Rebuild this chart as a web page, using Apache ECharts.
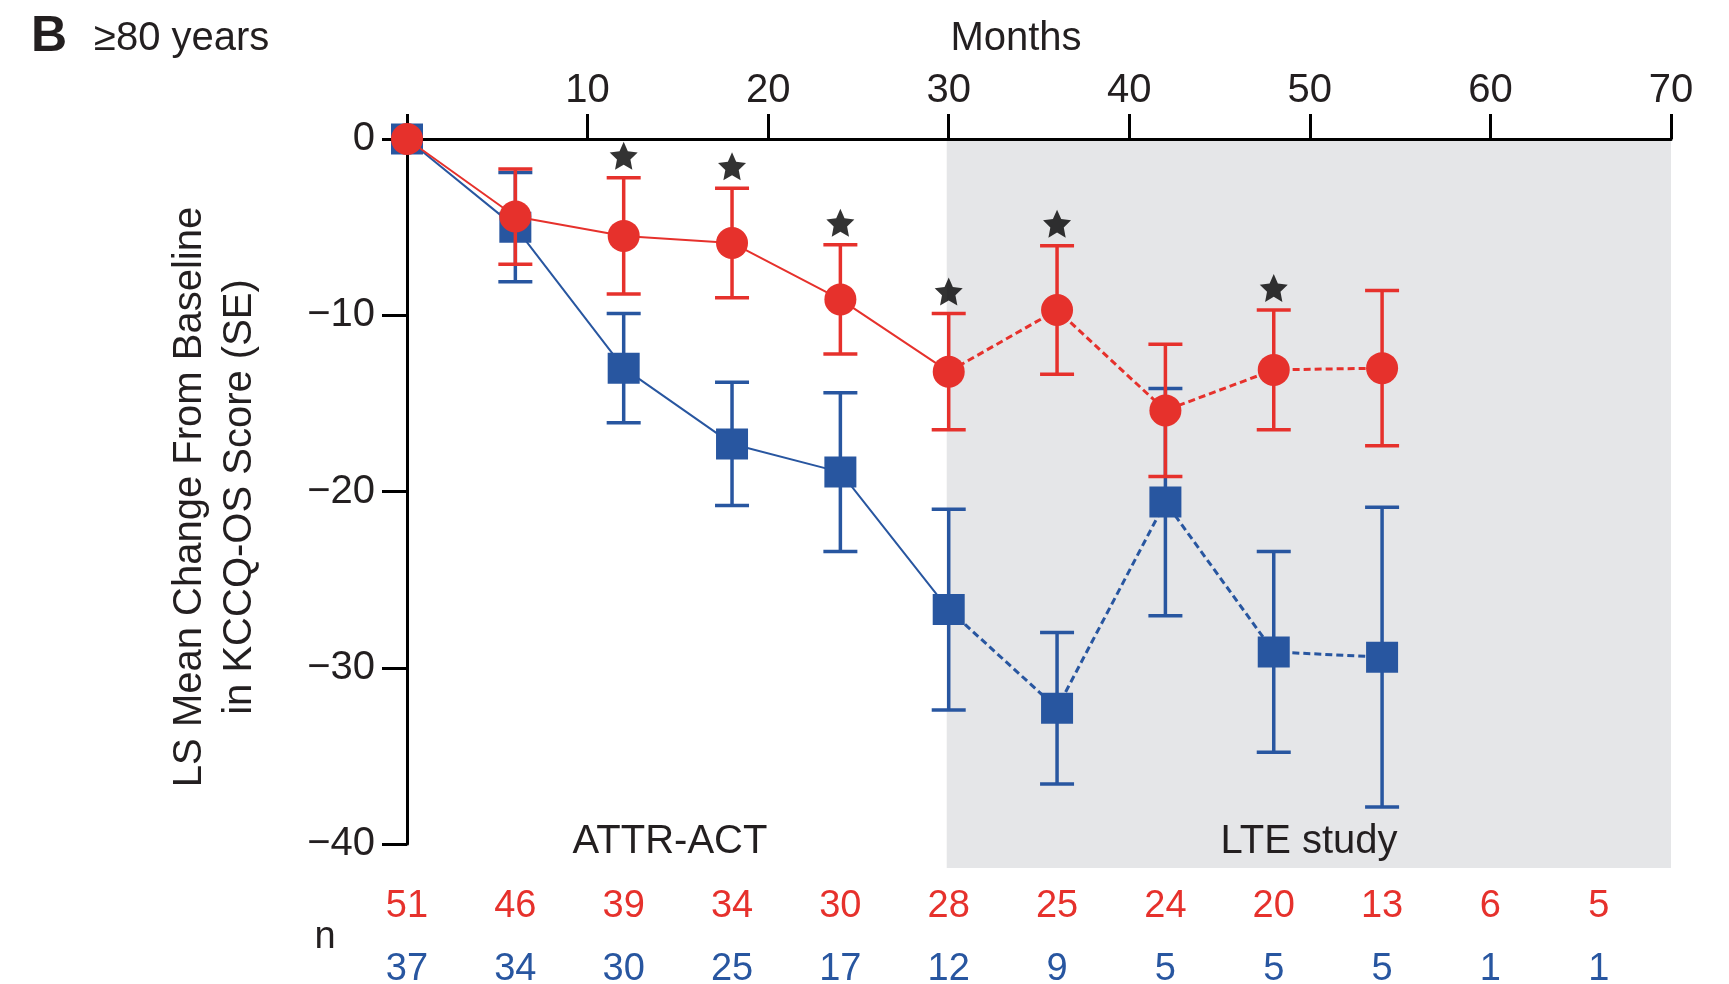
<!DOCTYPE html>
<html>
<head>
<meta charset="utf-8">
<title>KCCQ-OS change from baseline, ≥80 years</title>
<script src="https://cdn.jsdelivr.net/npm/echarts@6/dist/echarts.min.js"></script>
<style>
  html, body { margin: 0; padding: 0; background: #ffffff; }
  #chart { width: 1729px; height: 984px; }
</style>
</head>
<body>
<div id="chart"></div>
<script>
// Visit months (x) and LS mean change from baseline with its standard error
const months = [0, 6, 12, 18, 24, 30, 36, 42, 48, 54];
const tafamidisMean = [0, -4.4, -5.5, -5.9, -9.1, -13.2, -9.7, -15.4, -13.1, -13.0];
const tafamidisSE   = [0, 2.7, 3.3, 3.1, 3.1, 3.3, 3.65, 3.75, 3.4, 4.4];
const placeboMean   = [0, -5.0, -13.0, -17.3, -18.9, -26.7, -32.3, -20.6, -29.1, -29.4];
const placeboSE     = [0, 3.1, 3.1, 3.5, 4.5, 5.7, 4.3, 6.45, 5.7, 8.5];

// Months with a significant between-group difference
const significantMonths = [12, 18, 24, 30, 36, 48];

// Patients at risk
const nMonths     = [0, 6, 12, 18, 24, 30, 36, 42, 48, 54, 60, 66];
const nTafamidis  = [51, 46, 39, 34, 30, 28, 25, 24, 20, 13, 6, 5];
const nPlacebo    = [37, 34, 30, 25, 17, 12, 9, 5, 5, 5, 1, 1];

// Axis ticks
const monthTicks = [0, 10, 20, 30, 40, 50, 60, 70];
const scoreTicks = [0, -10, -20, -30, -40];

// The LTE study period (shaded) starts here
const lteStart = 30;

const RED = '#e6312c';
const BLUE = '#2856a0';
const INK = '#231f20';
const FONT = '"Liberation Sans", Arial, Helvetica, sans-serif';

function pairs(means, filterFn) {
  return months.map((m, i) => [m, means[i]]).filter(p => filterFn(p[0]));
}
function triples(means, ses) {
  return months.map((m, i) => [m, means[i], ses[i]]).filter(t => t[2] > 0);
}
function minusSign(v) {
  return v < 0 ? '\u2212' + Math.abs(v) : String(v);
}

// Five-pointed asterisk-like star used for significance marks
function starPath() {
  const pts = [];
  for (let i = 0; i < 10; i++) {
    const r = i % 2 ? 4.8 : 10;
    const a = -Math.PI / 2 + i * Math.PI / 5;
    pts.push((r * Math.cos(a)).toFixed(2) + ',' + (r * Math.sin(a)).toFixed(2));
  }
  return 'path://M' + pts.join(' L') + ' Z';
}

function errorBarSeries(name, means, ses, color, z) {
  return {
    name: name,
    type: 'custom',
    z: z,
    clip: false,
    encode: { x: 0, y: 1 },
    data: triples(means, ses),
    renderItem: function (params, api) {
      const x = api.value(0), m = api.value(1), se = api.value(2);
      const top = api.coord([x, m + se]);
      const bot = api.coord([x, m - se]);
      const half = 17;
      const style = { stroke: color, lineWidth: 3.5, fill: null };
      return {
        type: 'group',
        children: [
          { type: 'line', shape: { x1: top[0], y1: top[1], x2: bot[0], y2: bot[1] }, style: style },
          { type: 'line', shape: { x1: top[0] - half, y1: top[1], x2: top[0] + half, y2: top[1] }, style: style },
          { type: 'line', shape: { x1: bot[0] - half, y1: bot[1], x2: bot[0] + half, y2: bot[1] }, style: style }
        ]
      };
    }
  };
}

function armSeries(prefix, means, ses, color, symbol, symbolSize, zBase) {
  return [
    {
      name: prefix + ' solid', type: 'line', z: zBase, symbol: 'none', silent: true,
      data: pairs(means, m => m <= lteStart),
      lineStyle: { color: color, width: 2 }
    },
    {
      name: prefix + ' dashed', type: 'line', z: zBase, symbol: 'none', silent: true,
      data: pairs(means, m => m >= lteStart),
      lineStyle: { color: color, width: 3, type: [7, 4] }
    },
    errorBarSeries(prefix + ' SE', means, ses, color, zBase + 1),
    {
      name: prefix, type: 'scatter', z: zBase + 2, symbol: symbol, symbolSize: symbolSize,
      data: pairs(means, () => true),
      itemStyle: { color: color, opacity: 1 }
    }
  ];
}

const chart = echarts.init(document.getElementById('chart'), null, { renderer: 'canvas' });

const axisLineStyle = { color: '#000', width: 3 };

const option = {
  animation: false,
  backgroundColor: '#ffffff',
  textStyle: { fontFamily: FONT },
  grid: { left: 407, right: 58, top: 139, bottom: 140, containLabel: false, outerBoundsMode: 'none' },
  xAxis: [
    {
      type: 'value', position: 'top', min: monthTicks[0], max: monthTicks[monthTicks.length - 1], interval: 10, z: 6,
      axisLine: { show: true, onZero: false, lineStyle: axisLineStyle },
      axisTick: { show: true, inside: false, length: 25, lineStyle: axisLineStyle },
      axisLabel: {
        fontSize: 40, color: INK, margin: 28, fontFamily: FONT,
        formatter: v => (v === 0 ? '' : String(v))
      },
      splitLine: { show: false }
    },
    {
      type: 'value', position: 'bottom', min: monthTicks[0], max: monthTicks[monthTicks.length - 1],
      axisLine: { show: false }, axisTick: { show: false }, splitLine: { show: false },
      axisLabel: {
        customValues: nMonths, fontSize: 38, color: RED, margin: 44, fontFamily: FONT,
        formatter: v => String(nTafamidis[nMonths.indexOf(v)])
      }
    },
    {
      type: 'value', position: 'bottom', min: monthTicks[0], max: monthTicks[monthTicks.length - 1],
      axisLine: { show: false }, axisTick: { show: false }, splitLine: { show: false },
      axisLabel: {
        customValues: nMonths, fontSize: 38, color: BLUE, margin: 107, fontFamily: FONT,
        formatter: v => String(nPlacebo[nMonths.indexOf(v)])
      }
    }
  ],
  yAxis: {
    type: 'value', min: scoreTicks[scoreTicks.length - 1], max: scoreTicks[0], interval: 10, z: 6,
    axisLine: { show: true, onZero: false, lineStyle: axisLineStyle },
    axisTick: { show: true, inside: false, length: 25, lineStyle: axisLineStyle },
    axisLabel: { fontSize: 40, color: INK, margin: 32, fontFamily: FONT, formatter: minusSign },
    splitLine: { show: false }
  },
  series: [].concat(
    armSeries('Placebo', placeboMean, placeboSE, BLUE, 'rect', [32, 31], 3),
    armSeries('Tafamidis', tafamidisMean, tafamidisSE, RED, 'circle', 32, 7),
    [{
      name: 'Significance', type: 'scatter', z: 12,
      symbol: starPath(), symbolSize: 28, symbolOffset: [0, -22],
      data: significantMonths.map(m => {
        const i = months.indexOf(m);
        return [m, tafamidisMean[i] + tafamidisSE[i]];
      }),
      itemStyle: { color: '#000' }
    }]
  )
};

chart.setOption(option);

// Shaded LTE period and free text placed after the scales exist
const pTop = chart.convertToPixel({ gridIndex: 0 }, [lteStart, scoreTicks[0]]);
const pBot = chart.convertToPixel({ gridIndex: 0 }, [monthTicks[monthTicks.length - 1], scoreTicks[scoreTicks.length - 1]]);

const txt = (x, y, text, size, extra) => Object.assign({
  type: 'text', x: x, y: y, silent: true,
  style: Object.assign({
    text: text, font: size + 'px ' + FONT, fill: INK,
    textAlign: 'center', textVerticalAlign: 'middle'
  }, extra || {})
});

chart.setOption({
  graphic: [
    {
      type: 'rect', z: -1, silent: true,
      shape: { x: pTop[0] - 2, y: pTop[1], width: pBot[0] - pTop[0] + 2, height: pBot[1] - pTop[1] + 24 },
      style: { fill: '#e5e6e8' }
    },
    txt(31, 37, 'B', 50, { textAlign: 'left', font: 'bold 50px ' + FONT }),
    txt(94, 39, '\u226580 years', 40, { textAlign: 'left' }),
    txt(1016, 39, 'Months', 40),
    txt(670, 842, 'ATTR-ACT', 40),
    txt(1309, 842, 'LTE study', 40),
    txt(325, 938, 'n', 38),
    Object.assign(txt(190, 497, 'LS Mean Change From Baseline', 40), { rotation: Math.PI / 2 }),
    Object.assign(txt(240, 497, 'in KCCQ-OS Score (SE)', 40), { rotation: Math.PI / 2 })
  ]
});
</script>
</body>
</html>
